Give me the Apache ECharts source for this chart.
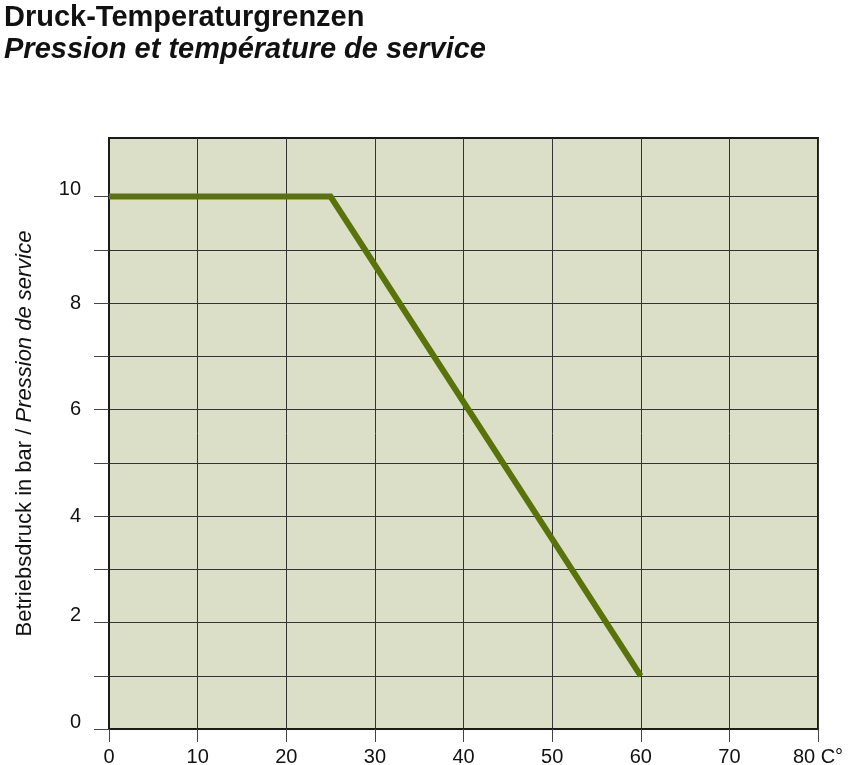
<!DOCTYPE html>
<html>
  <head>
    <meta charset="utf-8" />
    <title>Druck-Temperaturgrenzen</title>
    <script src="https://cdn.jsdelivr.net/npm/echarts/dist/echarts.min.js"></script>
    <style>
      body { margin: 0; background: #fff; }
      #main { width: 861px; height: 765px; }
    </style>
  </head>
  <body>
    <div id="main"></div>
    <script type="text/javascript">
      // Temperatur (°C) und zulässiger Betriebsdruck (bar)
      var temperatures = [0, 25, 60];
      var pressures = [10, 10, 1];
      var xTicks = [0, 10, 20, 30, 40, 50, 60, 70, 80];
      var yTicks = [0, 1, 2, 3, 4, 5, 6, 7, 8, 9, 10];
      var yLabels = [0, 2, 4, 6, 8, 10];

      var myChart = echarts.init(document.getElementById('main'));
      var font = '"Liberation Sans", Arial, sans-serif';

      var option = {
        animation: false,
        title: [
          {
            text: 'Druck-Temperaturgrenzen',
            left: -1,
            top: -2,
            textStyle: { fontFamily: font, fontSize: 29, fontWeight: 'bold', color: '#111' }
          },
          {
            text: 'Pression et température de service',
            left: -1,
            top: 30,
            textStyle: { fontFamily: font, fontSize: 29, fontWeight: 'bold', fontStyle: 'italic', color: '#111' }
          }
        ],
        grid: {
          left: 109,
          right: 43,
          top: 138,
          bottom: 36,
          outerBoundsMode: 'none',
          containLabel: false,
          show: true,
          backgroundColor: '#dcdfc8',
          borderColor: '#1a1a1a',
          borderWidth: 2
        },
        xAxis: {
          type: 'value',
          min: xTicks[0],
          max: xTicks[xTicks.length - 1],
          interval: 10,
          axisLine: { show: true, lineStyle: { color: '#1a1a1a', width: 2 } },
          axisTick: { show: true, length: 13, lineStyle: { color: '#444', width: 1 } },
          splitLine: { show: true, lineStyle: { color: '#333', width: 1 } },
          axisLabel: {
            margin: 18,
            fontFamily: font,
            fontSize: 20,
            color: '#111',
            formatter: function (v) {
              return v === 80 ? '80 C°' : String(v);
            }
          }
        },
        yAxis: {
          type: 'value',
          min: 0,
          max: 11.1,
          name: '{a|Betriebsdruck in bar / }{b|Pression de service}',
          nameLocation: 'middle',
          nameRotate: 90,
          nameGap: 73,
          nameTextStyle: {
            rich: {
              a: { fontFamily: font, fontSize: 22, color: '#111' },
              b: { fontFamily: font, fontSize: 22, fontStyle: 'italic', color: '#111' }
            }
          },
          axisLine: { show: true, lineStyle: { color: '#1a1a1a', width: 2 } },
          axisTick: {
            show: true,
            length: 15,
            customValues: yTicks,
            lineStyle: { color: '#444', width: 1 }
          },
          splitLine: { show: true, lineStyle: { color: '#333', width: 1 } },
          axisLabel: {
            margin: 28,
            fontFamily: font,
            fontSize: 20,
            color: '#111',
            customValues: yLabels,
            formatter: function (v) {
              // im Original sitzen 0, 2 und 10 etwas höher als 4, 6, 8
              return v === 4 || v === 6 || v === 8 ? '{m|' + v + '}' : '{u|' + v + '}';
            },
            rich: {
              m: { fontFamily: font, fontSize: 20, color: '#111' },
              u: { fontFamily: font, fontSize: 20, color: '#111', padding: [0, 0, 14, 0] }
            }
          }
        },
        series: [
          {
            type: 'line',
            data: temperatures.map(function (t, i) {
              return [t, pressures[i]];
            }),
            symbol: 'none',
            lineStyle: { color: '#5a720a', width: 6, cap: 'butt', join: 'miter' }
          }
        ]
      };

      myChart.setOption(option);
    </script>
  </body>
</html>
